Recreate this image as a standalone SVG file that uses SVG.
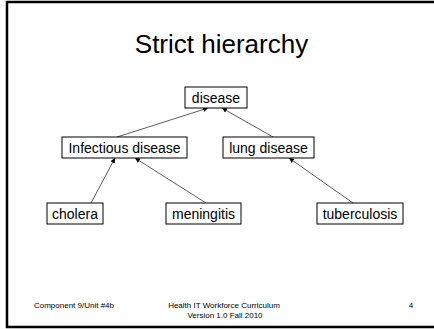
<svg xmlns="http://www.w3.org/2000/svg" width="434" height="329" viewBox="0 0 434 329">
<style>
.box{fill:#fff;stroke:#000;stroke-width:1}
.lbl{font-family:"Liberation Sans",Arial,sans-serif;font-size:14px;fill:#000;text-anchor:middle}
.edge{stroke:#333;stroke-width:0.8;fill:none;marker-end:url(#ah)}
.foot{font-family:"Liberation Sans",Arial,sans-serif;font-size:8px;fill:#000;text-anchor:middle}
</style>
<defs>
<marker id="ah" viewBox="0 0 10 10" refX="10" refY="5" markerWidth="5" markerHeight="5" markerUnits="userSpaceOnUse" orient="auto">
<path d="M0,0 L10,5 L0,10 z" fill="#000"/>
</marker>
</defs>
<rect x="0" y="0" width="434" height="329" fill="#fff"/>
<rect x="7" y="2" width="440" height="325" fill="none" stroke="#000" stroke-width="2.5"/>
<text x="221.5" y="53" font-family="'Liberation Sans',Arial,sans-serif" font-size="26" text-anchor="middle" fill="#000">Strict hierarchy</text>
<g id="connectors">
<line class="edge" x1="117" y1="137" x2="208" y2="108"/>
<line class="edge" x1="273" y1="137" x2="222" y2="108"/>
<line class="edge" x1="91" y1="203" x2="115" y2="158"/>
<line class="edge" x1="206" y1="203" x2="135" y2="158"/>
<line class="edge" x1="353" y1="203" x2="289" y2="158"/>
</g>
<g id="disease"><rect class="box" x="185" y="87" width="62" height="21"/><text class="lbl" x="216" y="102.5">disease</text></g>
<g id="infectious"><rect class="box" x="62" y="137" width="125" height="21"/><text class="lbl" x="124.5" y="152.5">Infectious disease</text></g>
<g id="lung"><rect class="box" x="223" y="137" width="91" height="21"/><text class="lbl" x="268.5" y="152.5">lung disease</text></g>
<g id="cholera"><rect class="box" x="47" y="203" width="56" height="21"/><text class="lbl" x="75" y="218.5">cholera</text></g>
<g id="meningitis"><rect class="box" x="166" y="203" width="75" height="21"/><text class="lbl" x="203.5" y="218.5">meningitis</text></g>
<g id="tuberculosis"><rect class="box" x="317" y="203" width="86" height="21"/><text class="lbl" x="360" y="218.5">tuberculosis</text></g>
<text class="foot" x="74" y="308">Component 9/Unit #4b</text>
<text class="foot" x="224" y="308">Health IT Workforce Curriculum</text>
<text class="foot" x="225" y="318">Version 1.0 Fall 2010</text>
<text class="foot" x="411" y="308">4</text>
</svg>
